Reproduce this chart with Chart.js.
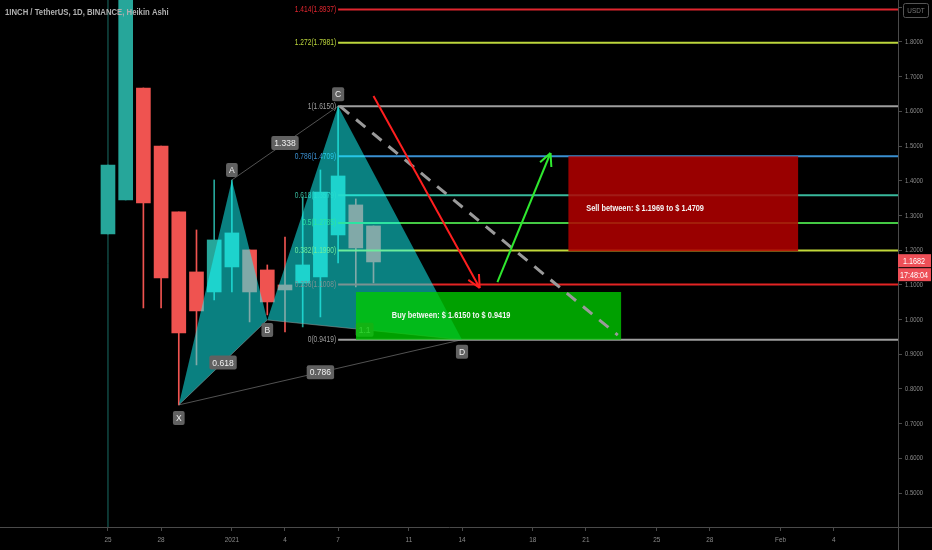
<!DOCTYPE html>
<html>
<head>
<meta charset="utf-8">
<script src="https://cdn.jsdelivr.net/npm/chart.js@4.4.0/dist/chart.umd.min.js"></script>
<style>
    html, body { margin: 0; padding: 0; background: #000; }
    canvas { display: block; }
</style>
</head>
<body>
<canvas id="chart" width="932" height="550"></canvas>
<script>
// 1INCH / USDT, daily Heikin Ashi. Day 0 = Dec 25 2020
const candleDays  = [0, 1, 2, 3, 4, 5, 6, 7, 8, 9, 10, 11, 12, 13, 14, 15];
const candleOpen  = [1.2467, 1.3447, 1.6674, 1.5000, 1.3101, 1.1372, 1.0795, 1.1516, 1.2006, 1.1429, 1.0997, 1.1055, 1.1228, 1.2438, 1.3303, 1.2697];
const candleClose = [1.4455, 2.0500, 1.3360, 1.1199, 0.9614, 1.0248, 1.2294, 1.2496, 1.0795, 1.0507, 1.0853, 1.1573, 1.3677, 1.4138, 1.2063, 1.1660];
const candleHigh  = [1.4455, 2.0500, 1.6674, 1.5000, 1.3101, 1.2582, 1.4023, 1.4023, 1.2006, 1.1573, 1.2380, 1.3533, 1.4311, 1.6150, 1.3476, 1.2697];
const candleLow   = [1.2467, 1.3447, 1.0334, 1.0334, 0.7539, 0.8692, 1.0565, 1.0795, 0.9931, 1.0133, 0.9643, 0.9787, 1.0075, 1.1631, 1.0940, 1.1055];

const tickDays   = [0, 3, 7, 10, 13, 17, 20, 24, 27, 31, 34, 38, 41];
const tickLabels = ['25', '28', '2021', '4', '7', '11', '14', '18', '21', '25', '28', 'Feb', '4'];
const priceTicks = [0.5, 0.6, 0.7, 0.8, 0.9, 1.0, 1.1, 1.2, 1.3, 1.4, 1.5, 1.6, 1.7, 1.8, 1.9];

// harmonic pattern points
const patternNames  = ['X', 'A', 'B', 'C', 'D'];
const patternDays   = [4, 7, 9, 13, 20];
const patternPrices = [0.7539, 1.4023, 0.9988, 1.6150, 0.9419];
const ratioLegs     = [['X', 'B'], ['A', 'C'], ['X', 'D'], ['B', 'D']];
const ratioValues   = ['0.618', '1.338', '0.786', '1.1'];

// fib retracement drawn from C
const fibRatios = [1.414, 1.272, 1, 0.786, 0.618, 0.5, 0.382, 0.236, 0];
const fibPrices = [1.8937, 1.7981, 1.6150, 1.4709, 1.3579, 1.2785, 1.1990, 1.1008, 0.9419];
const fibColors = ['#e0262f', '#bcd63c', '#9e9e9e', '#3a8fd0', '#38b89c', '#44c944', '#c2d83a', '#e32424', '#9e9e9e'];
const fibStartDay = 13;

// zones: [from day, to day, low, high]
const buyZone  = [14, 29, 0.9419, 1.0795];
const sellZone = [26, 39, 1.1969, 1.4709];
const buyText  = 'Buy between: $ 1.6150 to $ 0.9419';
const sellText = 'Sell between: $ 1.1969 to $ 1.4709';

const projDays   = [13.1, 28.8];
const projPrices = [1.615, 0.955];
const redArrowDays     = [15, 21];
const redArrowPrices   = [1.644, 1.091];
const greenArrowDays   = [22, 25];
const greenArrowPrices = [1.108, 1.480];

const lastPrice = 1.1682;
const countdown = '17:48:04';
const title = '1INCH / TetherUS, 1D, BINANCE, Heikin Ashi';

const FONT = "'Liberation Sans', 'DejaVu Sans', sans-serif";
const TEAL = '#26a69a';
const RED = '#ef5350';
const PATTERN_FILL = 'rgba(20,255,255,0.5)';

function pt(name) {
    let i = patternNames.indexOf(name);
    return {x: patternDays[i], y: patternPrices[i]};
}

function line(points, color, width, order, extra) {
    return Object.assign({
        type: 'line',
        data: points,
        borderColor: color,
        borderWidth: width,
        pointRadius: 0,
        tension: 0,
        fill: false,
        order: order
    }, extra || {});
}

function buildDatasets() {
    let datasets = [];
    let colors = candleDays.map((d, i) => candleClose[i] >= candleOpen[i] ? TEAL : RED);

    // vertical marker at Dec 25
    datasets.push(line([{x: 0, y: 0.3}, {x: 0, y: 2.1}], 'rgba(38,166,154,0.65)', 1, 9));

    datasets.push({
        type: 'bar',
        data: candleDays.map((d, i) => ({x: d, y: [candleLow[i], candleHigh[i]]})),
        backgroundColor: colors,
        barThickness: 1,
        grouped: false,
        order: 8
    });
    datasets.push({
        type: 'bar',
        data: candleDays.map((d, i) => ({x: d, y: [candleOpen[i], candleClose[i]]})),
        backgroundColor: colors,
        barThickness: 14,
        grouped: false,
        order: 7
    });

    for (let i = 0; i < fibRatios.length; i++) {
        let pts = [{x: fibStartDay, y: fibPrices[i]}, {x: 60, y: fibPrices[i]}];
        datasets.push(line(pts, fibColors[i], 2, i === 0 ? 5.9 : 6, i === 0 ? {hook: 'fib'} : {}));
    }

    // thin pattern legs, the last one triggers the label drawing
    let legIndex = {};
    for (let i = 0; i < ratioLegs.length; i++) {
        let leg = ratioLegs[i];
        legIndex[leg.join('')] = datasets.length;
        datasets.push(line([pt(leg[0]), pt(leg[1])], 'rgba(150,150,150,0.55)', 1,
            i === ratioLegs.length - 1 ? 2.9 : 3, i === ratioLegs.length - 1 ? {hook: 'pattern'} : {}));
    }

    // the two filled triangles of the pattern
    datasets.push(line([pt('X'), pt('A'), pt('B')], 'rgba(0,0,0,0)', 0, 4,
        {fill: legIndex['XB'], backgroundColor: PATTERN_FILL}));
    datasets.push(line([pt('B'), pt('C'), pt('D')], 'rgba(0,0,0,0)', 0, 4,
        {fill: legIndex['BD'], backgroundColor: PATTERN_FILL}));

    datasets.push(line([{x: buyZone[0], y: buyZone[3]}, {x: buyZone[1], y: buyZone[3]}], 'rgba(0,0,0,0)', 0, 2,
        {fill: {value: buyZone[2]}, backgroundColor: 'rgba(0,200,0,0.8)'}));
    datasets.push(line([{x: sellZone[0], y: sellZone[3]}, {x: sellZone[1], y: sellZone[3]}], 'rgba(0,0,0,0)', 0, 2,
        {fill: {value: sellZone[2]}, backgroundColor: 'rgba(180,0,0,0.85)'}));

    datasets.push(line(projDays.map((d, i) => ({x: d, y: projPrices[i]})), '#9a9a9a', 3, 1,
        {borderDash: [12, 9]}));

    datasets.push(line(redArrowDays.map((d, i) => ({x: d, y: redArrowPrices[i]})), '#ff1f1f', 2, 0, {arrow: true}));
    datasets.push(line(greenArrowDays.map((d, i) => ({x: d, y: greenArrowPrices[i]})), '#2fe82f', 2, 0, {arrow: true}));

    return datasets;
}

// the chart's font is very condensed, so squeeze text horizontally
function narrowText(ctx, text, x, y, size, squeeze, weight) {
    ctx.save();
    ctx.font = (weight || '') + ' ' + size + 'px ' + FONT;
    ctx.translate(x, y);
    ctx.scale(squeeze, 1);
    ctx.fillText(text, 0, 0);
    ctx.restore();
}

function labelBox(ctx, text, cx, cy, bg) {
    ctx.font = '9.5px ' + FONT;
    let w = ctx.measureText(text).width * 0.9 + 6;
    let h = 14;
    ctx.fillStyle = bg;
    ctx.beginPath();
    ctx.roundRect(cx - w / 2, cy - h / 2, w, h, 2);
    ctx.fill();
    ctx.fillStyle = '#f0f0f0';
    ctx.textAlign = 'center';
    ctx.textBaseline = 'middle';
    narrowText(ctx, text, cx, cy + 0.5, 9.5, 0.9);
}

function drawFibLabels(chart) {
    let ctx = chart.ctx, xs = chart.scales.x, ys = chart.scales.y;
    let right = xs.getPixelForValue(fibStartDay) - 2;
    ctx.save();
    ctx.textAlign = 'right';
    ctx.textBaseline = 'middle';
    for (let i = 0; i < fibRatios.length; i++) {
        ctx.fillStyle = fibColors[i];
        narrowText(ctx, fibRatios[i] + '(' + fibPrices[i].toFixed(4) + ')', right, ys.getPixelForValue(fibPrices[i]), 8.5, 0.78);
    }
    ctx.restore();
}

function drawPatternLabels(chart) {
    let ctx = chart.ctx, xs = chart.scales.x, ys = chart.scales.y;
    ctx.save();
    for (let i = 0; i < ratioLegs.length; i++) {
        let a = pt(ratioLegs[i][0]), b = pt(ratioLegs[i][1]);
        let cx = (xs.getPixelForValue(a.x) + xs.getPixelForValue(b.x)) / 2;
        let cy = (ys.getPixelForValue(a.y) + ys.getPixelForValue(b.y)) / 2;
        labelBox(ctx, ratioValues[i], cx, cy, '#616161');
    }
    // point names sit above highs and below lows
    let shift = {X: 13, A: -10, B: 10, C: -12, D: 12};
    for (let i = 0; i < patternNames.length; i++) {
        let name = patternNames[i];
        let cx = xs.getPixelForValue(patternDays[i]);
        let cy = ys.getPixelForValue(patternPrices[i]) + shift[name];
        labelBox(ctx, name, cx, cy, '#616161');
    }
    ctx.restore();
}

function drawArrowHeads(chart) {
    let ctx = chart.ctx;
    chart.data.datasets.forEach((ds, i) => {
        if (!ds.arrow) return;
        let pts = chart.getDatasetMeta(i).data;
        let p1 = pts[pts.length - 2], p2 = pts[pts.length - 1];
        let angle = Math.atan2(p2.y - p1.y, p2.x - p1.x);
        ctx.save();
        ctx.strokeStyle = ds.borderColor;
        ctx.lineWidth = 2;
        ctx.beginPath();
        for (let s of [-1, 1]) {
            ctx.moveTo(p2.x, p2.y);
            ctx.lineTo(p2.x - 14 * Math.cos(angle + s * 0.45), p2.y - 14 * Math.sin(angle + s * 0.45));
        }
        ctx.stroke();
        ctx.restore();
    });
}

function drawZoneTexts(chart) {
    let ctx = chart.ctx, xs = chart.scales.x, ys = chart.scales.y;
    ctx.save();
    ctx.fillStyle = '#f4f4f4';
    ctx.textAlign = 'left';
    ctx.textBaseline = 'middle';
    narrowText(ctx, buyText, xs.getPixelForValue(buyZone[0]) + 36, ys.getPixelForValue((buyZone[2] + buyZone[3]) / 2), 9, 0.82, '600');
    narrowText(ctx, sellText, xs.getPixelForValue(sellZone[0]) + 18, ys.getPixelForValue((sellZone[2] + sellZone[3]) / 2) + 5, 9, 0.82, '600');
    ctx.restore();
}

function drawAxes(chart) {
    let ctx = chart.ctx, xs = chart.scales.x, ys = chart.scales.y;
    let area = chart.chartArea;
    ctx.save();
    // axis lines run on to the canvas edges
    ctx.strokeStyle = '#4a4a4a';
    ctx.lineWidth = 1;
    ctx.beginPath();
    ctx.moveTo(area.right + 0.5, area.bottom);
    ctx.lineTo(area.right + 0.5, chart.height);
    ctx.moveTo(area.right, area.bottom + 0.5);
    ctx.lineTo(chart.width, area.bottom + 0.5);
    ctx.stroke();

    ctx.fillStyle = '#8a8a8a';
    ctx.textBaseline = 'middle';
    ctx.textAlign = 'left';
    ys.ticks.forEach(t => {
        narrowText(ctx, t.value.toFixed(4), area.right + 7, ys.getPixelForValue(t.value), 7.5, 0.78);
    });
    ctx.textAlign = 'center';
    xs.ticks.forEach(t => {
        narrowText(ctx, tickLabels[tickDays.indexOf(t.value)], xs.getPixelForValue(t.value), area.bottom + 13, 8, 0.8);
    });
    ctx.restore();
}

function drawTitleAndTags(chart) {
    let ctx = chart.ctx, ys = chart.scales.y;
    let axisX = chart.chartArea.right;
    ctx.save();
    ctx.fillStyle = '#b0b0b0';
    ctx.textAlign = 'left';
    ctx.textBaseline = 'middle';
    narrowText(ctx, title, 5, 13, 9, 0.86, '600');

    // price and countdown tags on the axis
    let py = ys.getPixelForValue(lastPrice);
    ctx.fillStyle = '#ee4f57';
    ctx.fillRect(axisX, py - 7, 33, 13);
    ctx.fillRect(axisX, py + 7, 33, 13);
    ctx.fillStyle = '#ffffff';
    ctx.textAlign = 'center';
    narrowText(ctx, lastPrice.toFixed(4), axisX + 16, py, 8.5, 0.85);
    narrowText(ctx, countdown, axisX + 16, py + 14, 8.5, 0.85);

    // currency badge
    ctx.fillStyle = '#000';
    ctx.strokeStyle = '#555';
    ctx.lineWidth = 1;
    ctx.beginPath();
    ctx.roundRect(903.5, 3.5, 25, 14, 2);
    ctx.fill();
    ctx.stroke();
    ctx.fillStyle = '#777';
    narrowText(ctx, 'USDT', 916, 11, 7.5, 0.85);
    ctx.restore();
}

const overlayPlugin = {
    id: 'overlay',
    beforeDraw(chart) {
        let ctx = chart.ctx;
        ctx.save();
        ctx.fillStyle = '#000';
        ctx.fillRect(0, 0, chart.width, chart.height);
        ctx.restore();
    },
    afterDatasetDraw(chart, args) {
        let ds = chart.data.datasets[args.index];
        if (ds.hook === 'fib') drawFibLabels(chart);
        if (ds.hook === 'pattern') drawPatternLabels(chart);
    },
    afterDatasetsDraw(chart) {
        drawArrowHeads(chart);
        drawZoneTexts(chart);
    },
    afterDraw(chart) {
        drawAxes(chart);
        drawTitleAndTags(chart);
    }
};

function init() {
    let ctx = document.getElementById('chart').getContext('2d');
    new Chart(ctx, {
        type: 'line',
        data: {datasets: buildDatasets()},
        options: {
            responsive: false,
            animation: false,
            devicePixelRatio: 1,
            layout: {padding: 0},
            plugins: {
                legend: {display: false},
                tooltip: {enabled: false}
            },
            scales: {
                x: {
                    type: 'linear',
                    offset: false,
                    min: -6.1,
                    max: 44.63,
                    afterBuildTicks: scale => { scale.ticks = tickDays.map(v => ({value: v})); },
                    afterFit: scale => { scale.height = 23; scale.paddingLeft = 0; scale.paddingRight = 0; },
                    grid: {offset: false, drawOnChartArea: false, tickLength: 4, color: '#4a4a4a'},
                    border: {color: '#4a4a4a'},
                    ticks: {display: false, autoSkip: false, maxRotation: 0}
                },
                y: {
                    type: 'linear',
                    position: 'right',
                    min: 0.402,
                    max: 1.921,
                    afterBuildTicks: scale => { scale.ticks = priceTicks.map(v => ({value: v})); },
                    afterFit: scale => { scale.width = 34; scale.paddingTop = 0; scale.paddingBottom = 0; },
                    grid: {drawOnChartArea: false, tickLength: 4, color: '#4a4a4a'},
                    border: {color: '#4a4a4a'},
                    ticks: {display: false}
                }
            }
        },
        plugins: [overlayPlugin]
    });
}

init();
</script>
</body>
</html>
